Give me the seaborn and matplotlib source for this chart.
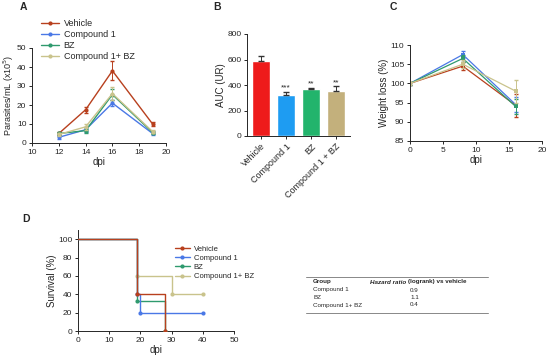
import numpy as np
import pandas as pd
import matplotlib

matplotlib.use("Agg")
import matplotlib.pyplot as plt
import seaborn as sns

W, H = 550, 360

GROUPS = ["Vehicle", "Compound 1", "BZ", "Compound 1+ BZ"]
COLORS = ["#b8401e", "#4a78e6", "#2f9a6e", "#c9c38c"]
BAR_COLORS = ["#ee1b1b", "#1e9cf2", "#22b46c", "#c3b07c"]

# panel A: parasitemia
A_DPI = [12, 14, 16, 19]
A_VEH = [5, 17.5, 38, 10]
A_C1 = [3, 7, 21, 5]
A_BZ = [5, 6.5, 25.5, 5.5]
A_COMBO = [4.5, 8.5, 26, 6]
A_VEH_ERR = [1, 1.5, 5, 1]
A_C1_ERR = [0.7, 1, 1.5, 0.7]
A_BZ_ERR = [0.7, 1, 3, 0.7]
A_COMBO_ERR = [1, 1.5, 3.5, 1]

# panel B: AUC
B_LABELS = ["Vehicle", "Compound 1", "BZ", "Compound 1 + BZ"]
B_AUC = [585, 320, 365, 350]
B_ERR = [40, 25, 12, 40]
B_STARS = ["", "***", "**", "**"]

# panel C: weight
C_DPI = [0, 8, 16]
C_VEH = [100, 104.5, 94.3]
C_C1 = [100, 107.5, 94.5]
C_BZ = [100, 106.5, 94]
C_COMBO = [100, 105, 98]
C_VEH_ERR = [0.3, 1, 3]
C_C1_ERR = [0.3, 1, 2]
C_BZ_ERR = [0.3, 1, 2]
C_COMBO_ERR = [0.3, 1, 3]

# panel D: survival (step times / values)
D_VEH_T = [0, 19, 28]
D_VEH_S = [100, 40, 0]
D_C1_T = [0, 19, 20, 40]
D_C1_S = [100, 40, 20, 20]
D_BZ_T = [0, 19, 28]
D_BZ_S = [100, 33, 0]
D_COMBO_T = [0, 19, 30, 40]
D_COMBO_S = [100, 60, 40, 40]

HR_GROUPS = ["Compound 1", "BZ", "Compound 1+ BZ"]
HR_VALUES = ["0.9", "1.1", "0.4"]

sns.set_theme(style="ticks")
plt.rcParams["font.family"] = ["Liberation Sans", "DejaVu Sans"]
plt.rcParams["font.size"] = 6
plt.rcParams["axes.linewidth"] = 0.7
plt.rcParams["xtick.major.size"] = 2.5
plt.rcParams["ytick.major.size"] = 2.5
plt.rcParams["xtick.labelsize"] = 6
plt.rcParams["ytick.labelsize"] = 6


def box(l, r, t, b):
    return [l / W, 1 - b / H, (r - l) / W, (b - t) / H]


def clean(ax):
    sns.despine(ax=ax)
    ax.tick_params(width=0.7, pad=1.5)


fig = plt.figure(figsize=(W / 100, H / 100), dpi=100)

# ---- A
ax = fig.add_axes(box(32, 166, 48, 143))
a_series = [(A_VEH, A_VEH_ERR), (A_C1, A_C1_ERR), (A_BZ, A_BZ_ERR), (A_COMBO, A_COMBO_ERR)]
for name, col, (y, e) in zip(GROUPS, COLORS, a_series):
    sns.lineplot(x=A_DPI, y=y, ax=ax, color=col, marker="o", markersize=3,
                 markeredgewidth=0, lw=1, label=name)
    ax.errorbar(A_DPI, y, yerr=e, fmt="none", ecolor=col, elinewidth=0.7, capsize=1.5)
ax.set(xlim=(10, 20), ylim=(0, 50), xticks=[10, 12, 14, 16, 18, 20],
       yticks=[0, 10, 20, 30, 40, 50])
ax.set_xlabel("dpi", fontsize=7, labelpad=1)
ax.set_ylabel("Parasites/mL (x10$^5$)", fontsize=6.5, labelpad=1)
ax.legend(loc="upper left", bbox_to_anchor=(0.04, 1.34), frameon=False, fontsize=6.5,
          handlelength=2, labelspacing=0.2, borderaxespad=0, handletextpad=0.5)
clean(ax)
fig.text(20 / W, 1 - 10 / H, "A", fontsize=7.5, fontweight="bold")

# ---- B
ax = fig.add_axes(box(247, 350, 34, 136))
sns.barplot(x=B_LABELS, y=B_AUC, hue=B_LABELS, palette=BAR_COLORS, ax=ax,
            legend=False, width=0.75, errorbar=None, saturation=1)
ax.errorbar(range(len(B_AUC)), B_AUC, yerr=[[0] * len(B_ERR), B_ERR], fmt="none",
            ecolor="#333333", elinewidth=0.7, capsize=2)
for i, (v, e, s) in enumerate(zip(B_AUC, B_ERR, B_STARS)):
    ax.text(i, v + e + 3, s, ha="center", va="bottom", fontsize=6)
ax.set(ylim=(0, 800), yticks=[0, 200, 400, 600, 800])
ax.set_ylabel("AUC (UR)", fontsize=7, labelpad=1)
ax.set_xticks(range(len(B_LABELS)))
ax.set_xticklabels(B_LABELS, rotation=45, ha="right", rotation_mode="anchor", fontsize=6.5)
clean(ax)
fig.text(213 / W, 1 - 10 / H, "B", fontsize=7.5, fontweight="bold")

# ---- C
ax = fig.add_axes(box(410, 542, 45, 141))
c_series = [(C_VEH, C_VEH_ERR), (C_C1, C_C1_ERR), (C_BZ, C_BZ_ERR), (C_COMBO, C_COMBO_ERR)]
for name, col, (y, e) in zip(GROUPS, COLORS, c_series):
    sns.lineplot(x=C_DPI, y=y, ax=ax, color=col, marker="s", markersize=3,
                 markeredgewidth=0, lw=0.9, legend=False)
    ax.errorbar(C_DPI, y, yerr=e, fmt="none", ecolor=col, elinewidth=0.7, capsize=1.5)
ax.set(xlim=(0, 20), ylim=(85, 110), xticks=[0, 5, 10, 15, 20],
       yticks=[85, 90, 95, 100, 105, 110])
ax.set_xlabel("dpi", fontsize=7, labelpad=1)
ax.set_ylabel("Weight loss (%)", fontsize=7, labelpad=1)
clean(ax)
fig.text(390 / W, 1 - 10 / H, "C", fontsize=7.5, fontweight="bold")

# ---- D
ax = fig.add_axes(box(78, 234, 230, 331))
d_series = [(D_VEH_T, D_VEH_S), (D_C1_T, D_C1_S), (D_BZ_T, D_BZ_S), (D_COMBO_T, D_COMBO_S)]
for z, (name, col, (t, s)) in enumerate(zip(GROUPS, COLORS, d_series)):
    df = pd.DataFrame({"t": t, "s": s})
    sns.lineplot(data=df, x="t", y="s", ax=ax, color=col, drawstyle="steps-post",
                 lw=1, marker="o", markersize=3, markeredgewidth=0, label=name,
                 markevery=list(range(1, len(t))), zorder=10 - z)
ax.set(xlim=(0, 50), ylim=(0, 110), xticks=[0, 10, 20, 30, 40, 50],
       yticks=[0, 20, 40, 60, 80, 100])
ax.set_xlabel("dpi", fontsize=7, labelpad=1)
ax.set_ylabel("Survival (%)", fontsize=7, labelpad=1)
ax.legend(loc="upper left", bbox_to_anchor=(0.6, 0.88), frameon=False, fontsize=5.5,
          handlelength=2, labelspacing=0.25, borderaxespad=0, handletextpad=0.5)
clean(ax)
fig.text(22 / W, 1 - 222 / H, "D", fontsize=7.5, fontweight="bold")

# ---- hazard ratio table
tx0, tx1 = 306 / W, 488 / W
ytop = 1 - 277 / H
ybot = 1 - 313 / H
fig.add_artist(plt.Line2D([tx0, tx1], [ytop, ytop], color="#888888", lw=0.7))
fig.add_artist(plt.Line2D([tx0, tx1], [ybot, ybot], color="#888888", lw=0.7))
fig.text(313 / W, 1 - 282 / H, "Group", fontsize=4.5, fontweight="bold", va="center")
fig.text(370 / W, 1 - 282 / H, "Hazard ratio", fontsize=4.5, fontweight="bold",
         fontstyle="italic", va="center")
fig.text(408 / W, 1 - 282 / H, "(logrank) vs vehicle", fontsize=4.5, fontweight="bold",
         va="center")
for i, (g, v) in enumerate(zip(HR_GROUPS, HR_VALUES)):
    y = 1 - (290 + i * 7.5) / H
    fig.text(313 / W, y, g, fontsize=4.5, va="center")
    fig.text(410 / W, y, v, fontsize=4.5, va="center")

fig.savefig("out.png", dpi=100, facecolor="white")
